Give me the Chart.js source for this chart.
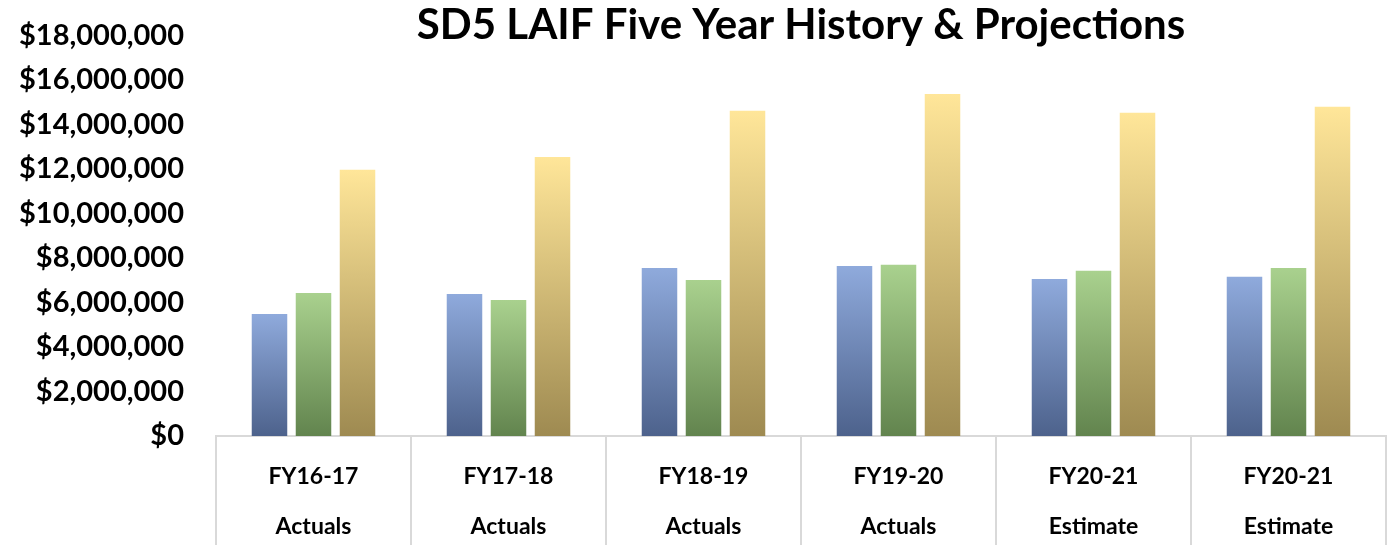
<!DOCTYPE html>
<html>
<head>
<meta charset="utf-8">
<script src="https://cdn.jsdelivr.net/npm/chart.js@4/dist/chart.umd.min.js"></script>
<style>
  html, body { margin: 0; padding: 0; background: #fff; }
  #wrap { width: 1389px; height: 545px; }
</style>
</head>
<body>
<div id="wrap"><canvas id="chart" width="1389" height="545"></canvas></div>
<script>
// DATA
const fiscalYears = ['FY16-17', 'FY17-18', 'FY18-19', 'FY19-20', 'FY20-21', 'FY20-21'];
const yearTypes = ['Actuals', 'Actuals', 'Actuals', 'Actuals', 'Estimate', 'Estimate'];
const blueValues = [5480000, 6380000, 7550000, 7640000, 7060000, 7150000];
const greenValues = [6430000, 6110000, 7010000, 7690000, 7420000, 7550000];
const goldValues = [11960000, 12540000, 14610000, 15370000, 14520000, 14790000];
const yTicks = [0, 2000000, 4000000, 6000000, 8000000, 10000000, 12000000, 14000000, 16000000, 18000000];

const FONT = 'Lato, "Open Sans", sans-serif';

// each bar gets its own top->bottom gradient (like the excel fill)
function barGradient(top, bottom) {
    return (ctx) => {
        const chart = ctx.chart;
        if (!chart.chartArea || ctx.type !== 'data') return top;
        const y = chart.scales.y;
        const yTop = y.getPixelForValue(ctx.raw);
        const yBase = y.getPixelForValue(0);
        const g = chart.ctx.createLinearGradient(0, yTop, 0, yBase);
        g.addColorStop(0, top);
        g.addColorStop(1, bottom);
        return g;
    };
}

const labels = fiscalYears.map((fy, i) => [fy, yearTypes[i]]);

new Chart(document.getElementById('chart'), {
    type: 'bar',
    data: {
        labels: labels,
        datasets: [
            { label: 'Series 1', data: blueValues, backgroundColor: barGradient('#8faadc', '#4d628c') },
            { label: 'Series 2', data: greenValues, backgroundColor: barGradient('#a9d18e', '#62844e') },
            { label: 'Series 3', data: goldValues, backgroundColor: barGradient('#ffe699', '#9e8a51') }
        ]
    },
    options: {
        responsive: false,
        animation: false,
        categoryPercentage: 0.677,
        barPercentage: 0.807,
        layout: { padding: { left: 0, right: 3, top: 0, bottom: 0 } },
        plugins: {
            legend: { display: false },
            tooltip: { enabled: false },
            title: {
                display: true,
                fullSize: false,
                text: 'SD5 LAIF Five Year History & Projections',
                color: '#000',
                font: { family: FONT, size: 42, weight: 'bold', lineHeight: 1.2 },
                padding: { top: 0, bottom: -15 },
                align: 'center'
            }
        },
        scales: {
            x: {
                grid: {
                    display: true,
                    drawOnChartArea: false,
                    drawTicks: true,
                    tickLength: 109,
                    color: '#d9d9d9',
                    lineWidth: 2,
                    offset: true
                },
                border: { display: true, color: '#d9d9d9', width: 2 },
                ticks: {
                    color: '#000',
                    padding: -94,
                    maxRotation: 0,
                    autoSkip: false,
                    font: { family: FONT, size: 23, weight: 'bold', lineHeight: 2.2 }
                },
                afterFit: (s) => { s.height = 109; }
            },
            y: {
                min: 0,
                max: 18000000,
                grid: { display: false, drawTicks: false },
                border: { display: false },
                afterBuildTicks: (s) => { s.ticks = yTicks.map(v => ({ value: v })); },
                ticks: {
                    color: '#000',
                    padding: 32,
                    font: { family: FONT, size: 29, weight: 'bold' },
                    callback: (v) => '$' + Number(v).toLocaleString('en-US')
                },
                afterFit: (s) => {
                    s.width = 216;
                    // the label padding would otherwise push the plot down
                    s.paddingTop = 0;
                    s.paddingBottom = 0;
                }
            }
        }
    }
});
</script>
</body>
</html>
